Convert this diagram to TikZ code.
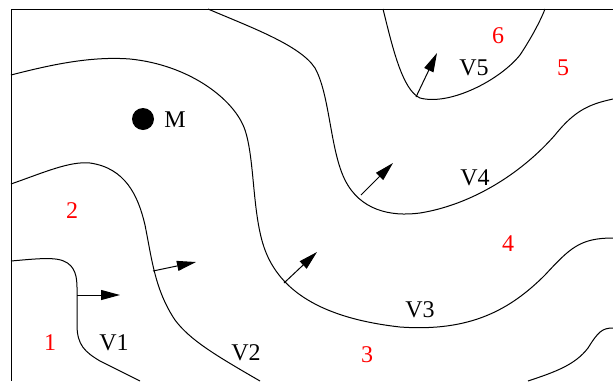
\documentclass[tikz,border=0pt]{standalone}
\usepackage{fontspec}
\setmainfont{Liberation Serif}
\usetikzlibrary{arrows.meta}
\tikzset{
  iso/.style={line width=1pt},
  flow/.style={-{Triangle[length=19pt, width=10pt]}, line width=1pt},
  vlbl/.style={font=\fontsize{24}{28}\selectfont, anchor=base, inner sep=0pt},
  zlbl/.style={vlbl, zone},
  dot/.style={circle, fill, inner sep=0pt, minimum size=22pt},
}
\definecolor{zone}{RGB}{255,0,0}

\begin{document}
\begin{tikzpicture}[x=1pt, y=-1pt]
  \useasboundingbox (0,0) rectangle (613,381);
  % frame
  \draw[line width=1pt] (613,9) -- (11,9) -- (11,381);
  % level lines
  \draw[iso] (11,261) .. controls (45,258) and (62,256) .. (71,266)
    .. controls (78,274) and (77,285) .. (77,300) -- (77,325)
    .. controls (77,345) and (85,352) .. (100,361) -- (140,381);
  \draw[iso] (11,184) .. controls (45,172) and (70,161) .. (90,163)
    .. controls (125,168) and (138,195) .. (145,225)
    .. controls (152,260) and (155,290) .. (175,320)
    .. controls (190,340) and (215,355) .. (260,381);
  \draw[iso] (11,75) .. controls (50,65) and (90,56) .. (130,59)
    .. controls (190,65) and (235,100) .. (245,130)
    .. controls (255,160) and (252,215) .. (265,250)
    .. controls (280,290) and (320,318) .. (400,327)
    .. controls (470,332) and (510,310) .. (545,275)
    .. controls (570,248) and (580,238) .. (613,238);
  \draw[iso] (208,9) .. controls (250,27) and (300,45) .. (315,68)
    .. controls (330,95) and (330,150) .. (345,180)
    .. controls (360,210) and (390,217) .. (420,213)
    .. controls (470,205) and (520,175) .. (555,135)
    .. controls (575,110) and (590,104) .. (613,99);
  \draw[iso] (383,9) .. controls (392,45) and (402,90) .. (420,98)
    .. controls (450,106) and (500,80) .. (520,55)
    .. controls (530,40) and (540,22) .. (545,9);
  \draw[iso] (528,381) .. controls (555,372) and (575,365) .. (588,348)
    .. controls (598,332) and (602,328) .. (613,328);
  % gradient arrows
  \foreach \xa/\ya/\xb/\yb in {77/295/120/295, 153/271/196/262, 284/283/317/252,
                               361/195/393/163, 416/97/437/53}
    \draw[flow] (\xa,\ya) -- (\xb,\yb);
  % mass point
  \node[dot] (m) at (143,119) {};
  \node[vlbl] (mlbl) at (175,127) {M};
  % level labels
  \node[vlbl] (v1) at (114,350) {V1};
  \node[vlbl] (v2) at (246,360) {V2};
  \node[vlbl] (v3) at (420,317) {V3};
  \node[vlbl] (v4) at (475,185) {V4};
  \node[vlbl] (v5) at (474,75) {V5};
  % zone numbers
  \node[zlbl] (z1) at (50,350) {1};
  \node[zlbl] (z2) at (72,218) {2};
  \node[zlbl] (z3) at (367,362) {3};
  \node[zlbl] (z4) at (508,251) {4};
  \node[zlbl] (z5) at (563,75) {5};
  \node[zlbl] (z6) at (498,43) {6};
\end{tikzpicture}
\end{document}
